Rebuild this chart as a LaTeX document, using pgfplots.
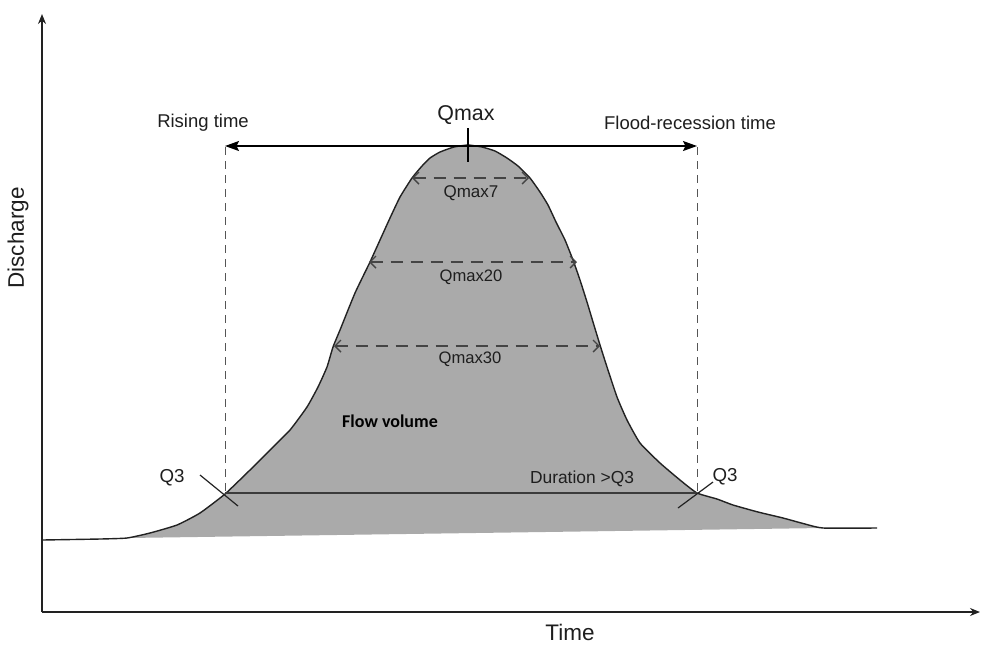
\documentclass[border=0pt]{standalone}
\usepackage{pgfplots}
\pgfplotsset{compat=1.18}
\usepackage{fontspec}
\setmainfont{Liberation Sans}
\newfontfamily\calibri{Carlito}
\usetikzlibrary{arrows.meta}
\definecolor{fillgray}{HTML}{AAAAAA}
\definecolor{linedark}{HTML}{222222}
\definecolor{dashgray}{HTML}{555555}
\definecolor{txt}{HTML}{1E1E1E}

\pgfplotstableread{
x y
42 540
100 539
127 538
150 533
177 525
200 513
225 494
250 470
270 450
290 430
307 407
318 387
327 367
333 347
340 330
355 293
370 262
380 240
390 218
400 197
412 178
422 166
430 158
440 152
454 147
468 145
482 147
495 151
507 158
518 166
530 178
540 192
548 205
556 222
565 240
573 260
580 280
587 302
593 322
600 345
607 367
617 397
627 420
640 443
660 463
680 480
697 493
717 499
733 505
758 512
783 518
805 524
823 528
877 528
}\hydro

\pgfplotstableread{
x y
127 538
150 533
177 525
200 513
225 494
250 470
270 450
290 430
307 407
318 387
327 367
333 347
340 330
355 293
370 262
380 240
390 218
400 197
412 178
422 166
430 158
440 152
454 147
468 145
482 147
495 151
507 158
518 166
530 178
540 192
548 205
556 222
565 240
573 260
580 280
587 302
593 322
600 345
607 367
617 397
627 420
640 443
660 463
680 480
697 493
717 499
733 505
758 512
783 518
805 524
823 528
}\hydrofill

\begin{document}
\begin{tikzpicture}
\begin{axis}[
  scale only axis,
  width=490.5pt, height=323pt,
  xmin=0, xmax=981, ymin=0, ymax=646,
  y dir=reverse,
  hide axis,
  clip=false,
]
% bounding box
\addplot[draw=none] coordinates {(0,0) (981,646)};
% flow volume area
\addplot[fill=fillgray, draw=none, smooth, tension=0.3] table[x=x,y=y] {\hydrofill} -- cycle;
% hydrograph
\addplot[linedark, line width=0.7pt, smooth, tension=0.3] table[x=x,y=y] {\hydro};
% axes
\addplot[linedark, line width=0.6pt, -{Stealth[length=5pt,width=4pt]}] coordinates {(42,612) (42,14)};
\addplot[linedark, line width=0.6pt, -{Stealth[length=5pt,width=4pt]}] coordinates {(42,612) (980,612)};
% vertical dashed lines
\addplot[dashgray, line width=0.5pt, dash pattern=on 4pt off 3pt] coordinates {(225,147) (225,494)};
\addplot[dashgray, line width=0.5pt, dash pattern=on 4pt off 3pt] coordinates {(697,147) (697,493)};
% top double arrow
\addplot[black, line width=0.7pt, {Stealth[length=7pt,width=5pt,inset=1.2pt]}-{Stealth[length=7pt,width=5pt,inset=1.2pt]}] coordinates {(225,146) (697,146)};
% Qmax tick
\addplot[black, line width=1pt] coordinates {(468,128) (468,162)};
% Qmax7 / 20 / 30 dashed arrows
\addplot[dashgray!80!black, line width=0.7pt, dash pattern=on 6pt off 4pt, {Straight Barb[length=3pt,width=6pt]}-{Straight Barb[length=3pt,width=6pt]}] coordinates {(412,178) (529,178)};
\addplot[dashgray!80!black, line width=0.7pt, dash pattern=on 6pt off 4pt, {Straight Barb[length=3pt,width=6pt]}-{Straight Barb[length=3pt,width=6pt]}] coordinates {(369,262) (577,262)};
\addplot[dashgray!80!black, line width=0.7pt, dash pattern=on 6pt off 4pt, {Straight Barb[length=3pt,width=6pt]}-{Straight Barb[length=3pt,width=6pt]}] coordinates {(334,346) (600,346)};
% duration line
\addplot[dashgray!70!black, line width=0.9pt] coordinates {(225,493) (697,493)};
% Q3 crosses
\addplot[linedark, line width=0.6pt] coordinates {(200,475) (238,506)};
\addplot[linedark, line width=0.6pt] coordinates {(678,508) (713,482)};
% texts
\node[txt, font=\fontsize{9.25pt}{10pt}\selectfont] at (axis cs:203,123) {Rising time};
\node[txt, font=\fontsize{10.7pt}{12pt}\selectfont] at (axis cs:466,115) {Qmax};
\node[txt, font=\fontsize{9.25pt}{10pt}\selectfont] at (axis cs:690,123) {Flood-recession time};
\node[txt, font=\fontsize{8.5pt}{9pt}\selectfont] at (axis cs:471,193) {Qmax7};
\node[txt, font=\fontsize{8.3pt}{9pt}\selectfont] at (axis cs:471,277) {Qmax20};
\node[txt, font=\fontsize{8.3pt}{9pt}\selectfont] at (axis cs:470,359) {Qmax30};
\node[black, font=\calibri\bfseries\fontsize{9pt}{10pt}\selectfont] at (axis cs:390,421) {Flow volume};
\node[txt, font=\fontsize{8.7pt}{9pt}\selectfont] at (axis cs:582,479) {Duration >Q3};
\node[txt, font=\fontsize{9.35pt}{10pt}\selectfont] at (axis cs:172,478) {Q3};
\node[txt, font=\fontsize{9.35pt}{10pt}\selectfont] at (axis cs:725,477) {Q3};
\node[txt, font=\fontsize{11.25pt}{12pt}\selectfont, rotate=90] at (axis cs:18,238) {Discharge};
\node[txt, font=\fontsize{11.25pt}{12pt}\selectfont] at (axis cs:570,632) {Time};
\end{axis}
\end{tikzpicture}
\end{document}
